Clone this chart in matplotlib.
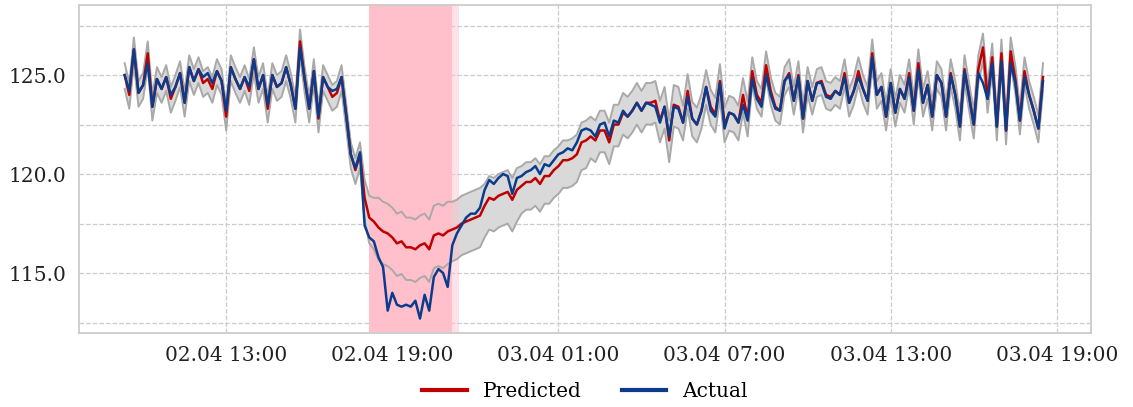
import matplotlib.pyplot as plt
import matplotlib.dates as mdates
from matplotlib.ticker import MultipleLocator, FormatStrFormatter
import pandas as pd

# 10-minute readings starting 02.04 09:20
start = "2024-04-02 09:20"

actual = [
    125.0, 124.2, 126.3, 124.1, 124.5, 125.6, 123.4, 124.8, 124.3, 124.9,
    124.0, 124.4, 125.1, 123.6, 125.4, 124.7, 125.3, 124.9, 125.1, 124.6,
    125.2, 124.7, 123.2, 125.4, 124.8, 124.3, 124.9, 124.4, 125.8, 124.3,
    125.0, 123.5, 125.0, 124.4, 124.6, 125.4, 124.5, 123.3, 126.4, 124.8,
    123.3, 125.2, 122.9, 124.9, 124.4, 124.2, 124.3, 124.9, 123.0, 121.0,
    120.3, 121.1, 117.4, 116.8, 116.6, 115.8, 115.3, 113.1, 114.0, 113.4,
    113.3, 113.4, 113.3, 113.6, 112.7, 113.9, 113.1, 114.8, 115.2, 115.0,
    114.3, 116.4, 117.0, 117.4, 117.8, 118.0, 118.0, 118.3, 119.2, 119.7,
    119.5, 119.8, 120.0, 119.9, 119.0, 119.8, 119.9, 120.1, 120.2, 120.4,
    120.0, 120.5, 120.4, 120.7, 121.0, 121.1, 121.3, 121.2, 121.6, 122.2,
    122.3, 122.2, 121.9, 122.5, 122.6, 121.9, 122.7, 122.6, 123.2, 122.9,
    123.2, 123.6, 123.2, 123.6, 123.5, 123.4, 122.6, 123.4, 121.9, 123.4,
    123.3, 122.6, 123.9, 122.8, 122.5, 123.2, 124.4, 123.2, 122.9, 124.6,
    122.3, 123.1, 123.0, 122.6, 123.5, 122.7, 124.8, 123.8, 123.4, 125.0,
    124.0, 123.3, 123.2, 124.7, 125.0, 123.7, 124.9, 122.8, 124.7, 123.7,
    124.6, 124.6, 123.9, 123.8, 124.2, 124.0, 124.9, 123.6, 124.2, 124.9,
    124.3, 123.7, 125.9, 124.0, 124.4, 122.9, 124.6, 123.1, 124.3, 123.8,
    124.9, 123.2, 125.3, 123.6, 124.5, 122.9, 125.0, 124.6, 122.9, 125.0,
    124.0, 122.4, 125.2, 123.9, 122.5, 125.1, 124.6, 123.8, 125.6, 122.4,
    125.7, 122.2, 125.6, 124.6, 122.7, 124.9, 124.0, 123.2, 122.3, 124.7,
]

predicted = [
    125.0, 124.0, 126.3, 124.1, 124.5, 126.1, 123.4, 124.8, 124.3, 124.9,
    123.8, 124.4, 125.1, 123.6, 125.4, 124.7, 125.3, 124.6, 124.8, 124.3,
    125.2, 124.7, 122.9, 125.4, 124.8, 124.3, 124.9, 124.2, 125.8, 124.3,
    125.0, 123.3, 125.0, 124.4, 124.6, 125.4, 124.5, 123.3, 126.7, 124.8,
    123.3, 125.2, 122.8, 124.9, 124.4, 123.9, 124.1, 124.9, 123.0, 121.0,
    120.2, 121.0, 118.8, 117.8, 117.6, 117.3, 117.1, 117.0, 116.8, 116.5,
    116.6, 116.3, 116.3, 116.2, 116.4, 116.5, 116.2, 116.9, 117.0, 116.9,
    117.1, 117.2, 117.3, 117.5, 117.6, 117.7, 117.8, 117.9, 118.4, 118.8,
    118.7, 118.9, 119.0, 119.1, 118.7, 119.2, 119.4, 119.6, 119.6, 119.8,
    119.5, 119.9, 119.9, 120.2, 120.4, 120.7, 120.7, 120.8, 121.0, 121.6,
    121.7, 121.9, 121.7, 122.2, 122.2, 121.6, 122.5, 122.5, 123.1, 122.9,
    123.2, 123.6, 123.2, 123.6, 123.6, 123.7, 122.7, 123.4, 121.7, 123.5,
    123.4, 122.6, 124.2, 122.8, 122.5, 123.2, 124.4, 123.4, 123.0, 124.7,
    122.5, 123.1, 123.0, 122.6, 124.0, 122.8, 125.2, 124.0, 123.6, 125.5,
    124.2, 123.4, 123.2, 124.7, 125.1, 123.7, 125.0, 122.8, 124.7, 123.7,
    124.6, 124.7, 124.0, 123.9, 124.2, 124.0, 125.1, 123.6, 124.2, 125.2,
    124.3, 123.7, 126.1, 124.0, 124.4, 122.9, 124.6, 123.1, 124.3, 123.8,
    125.1, 123.2, 125.6, 123.6, 124.5, 122.9, 125.0, 124.6, 122.9, 125.1,
    124.0, 122.4, 125.3, 123.9, 122.5, 125.3, 126.4, 123.8, 125.9, 122.4,
    126.1, 122.2, 126.2, 124.8, 122.7, 125.2, 124.0, 123.2, 122.3, 124.9,
]

# distance of the upper / lower interval edge from the prediction
band_hi = [
    0.6, 0.6, 0.6, 0.6, 0.6, 0.6, 0.6, 0.6, 0.6, 0.6,
    0.6, 0.6, 0.6, 0.6, 0.6, 0.6, 0.6, 0.6, 0.6, 0.6,
    0.6, 0.6, 0.6, 0.6, 0.6, 0.6, 0.6, 0.6, 0.6, 0.6,
    0.6, 0.6, 0.6, 0.6, 0.6, 0.6, 0.6, 0.6, 0.6, 0.6,
    0.6, 0.6, 0.6, 0.6, 0.6, 0.6, 0.6, 0.6, 0.6, 0.6,
    0.6, 0.6, 0.9, 1.1, 1.2, 1.5, 1.5, 1.5, 1.5, 1.5,
    1.5, 1.5, 1.5, 1.5, 1.5, 1.5, 1.5, 1.5, 1.5, 1.5,
    1.5, 1.4, 1.4, 1.4, 1.4, 1.4, 1.4, 1.4, 1.1, 1.1,
    1.1, 1.1, 1.1, 1.1, 1.1, 1.1, 1.0, 1.0, 1.0, 1.0,
    1.0, 1.0, 1.0, 1.0, 1.0, 1.0, 1.0, 1.0, 1.0, 1.0,
    1.0, 1.0, 1.0, 1.0, 1.0, 1.0, 1.0, 1.0, 1.0, 1.0,
    1.0, 1.0, 1.0, 1.0, 1.0, 1.0, 1.0, 1.0, 1.0, 1.0,
    1.0, 0.85, 0.85, 0.85, 0.85, 0.85, 0.85, 0.85, 0.85, 0.85,
    0.85, 0.85, 0.85, 0.85, 0.85, 0.85, 0.7, 0.7, 0.7, 0.7,
    0.7, 0.7, 0.7, 0.7, 0.7, 0.7, 0.7, 0.7, 0.7, 0.7,
    0.7, 0.7, 0.7, 0.7, 0.7, 0.7, 0.7, 0.7, 0.7, 0.7,
    0.7, 0.7, 0.7, 0.7, 0.7, 0.7, 0.7, 0.7, 0.7, 0.7,
    0.7, 0.7, 0.7, 0.7, 0.7, 0.7, 0.7, 0.7, 0.7, 0.7,
    0.7, 0.7, 0.7, 0.7, 0.7, 0.7, 0.7, 0.7, 0.7, 0.7,
    0.7, 0.7, 0.7, 0.7, 0.7, 0.7, 0.7, 0.7, 0.7, 0.7,
]

band_lo = [
    0.7, 0.7, 0.7, 0.7, 0.7, 0.7, 0.7, 0.7, 0.7, 0.7,
    0.7, 0.7, 0.7, 0.7, 0.7, 0.7, 0.7, 0.7, 0.7, 0.7,
    0.7, 0.7, 0.7, 0.7, 0.7, 0.7, 0.7, 0.7, 0.7, 0.7,
    0.7, 0.7, 0.7, 0.7, 0.7, 0.7, 0.7, 0.7, 0.7, 0.7,
    0.7, 0.7, 0.7, 0.7, 0.7, 0.7, 0.7, 0.7, 0.7, 0.7,
    0.7, 0.7, 1.1, 1.3, 1.4, 1.65, 1.65, 1.65, 1.65, 1.65,
    1.65, 1.65, 1.65, 1.65, 1.65, 1.65, 1.65, 1.65, 1.65, 1.65,
    1.65, 1.6, 1.6, 1.6, 1.6, 1.6, 1.6, 1.6, 1.6, 1.6,
    1.6, 1.6, 1.6, 1.6, 1.6, 1.6, 1.4, 1.4, 1.4, 1.4,
    1.4, 1.4, 1.4, 1.4, 1.4, 1.4, 1.4, 1.4, 1.4, 1.4,
    1.4, 1.1, 1.1, 1.1, 1.1, 1.1, 1.1, 1.1, 1.1, 1.1,
    1.1, 1.1, 1.1, 1.1, 1.1, 1.1, 1.1, 1.1, 1.1, 1.1,
    1.1, 0.9, 0.9, 0.9, 0.9, 0.9, 0.9, 0.9, 0.9, 0.9,
    0.9, 0.9, 0.9, 0.9, 0.9, 0.9, 0.7, 0.7, 0.7, 0.7,
    0.7, 0.7, 0.7, 0.7, 0.7, 0.7, 0.7, 0.7, 0.7, 0.7,
    0.7, 0.7, 0.7, 0.7, 0.7, 0.7, 0.7, 0.7, 0.7, 0.7,
    0.7, 0.7, 0.7, 0.7, 0.7, 0.7, 0.7, 0.7, 0.7, 0.7,
    0.7, 0.7, 0.7, 0.7, 0.7, 0.7, 0.7, 0.7, 0.7, 0.7,
    0.7, 0.7, 0.7, 0.7, 0.7, 0.7, 0.7, 0.7, 0.7, 0.7,
    0.7, 0.7, 0.7, 0.7, 0.7, 0.7, 0.7, 0.7, 0.7, 0.7,
]

# flagged anomaly window, and its fading tail
anomaly_spans = [("2024-04-02 18:10", "2024-04-02 21:10")]
tail_spans = [("2024-04-02 21:10", "2024-04-02 21:25")]

times = pd.date_range(start, periods=len(actual), freq="10min")
upper = [p + h for p, h in zip(predicted, band_hi)]
lower = [p - l for p, l in zip(predicted, band_lo)]

plt.rcParams["font.family"] = "DejaVu Serif"

fig = plt.figure(figsize=(11.33, 4.07), dpi=100)
ax = fig.add_axes([0.0697, 0.1818, 0.8932, 0.8059])

ax.fill_between(times, lower, upper, color="#D9D9D9", lw=0, zorder=1)
for a, b in anomaly_spans:
    ax.axvspan(pd.Timestamp(a), pd.Timestamp(b), color="#FFC0CB", lw=0, zorder=2)
for a, b in tail_spans:
    ax.axvspan(pd.Timestamp(a), pd.Timestamp(b), color="#FFC0CB", alpha=0.45, lw=0, zorder=2)
ax.plot(times, upper, color="#A9A9A9", lw=1.4, zorder=3)
ax.plot(times, lower, color="#A9A9A9", lw=1.4, zorder=3)
ax.plot(times, predicted, color="#C00000", lw=1.8, zorder=4, label="Predicted")
ax.plot(times, actual, color="#0B3C8C", lw=1.8, zorder=5, label="Actual")

ax.set_xlim(pd.Timestamp("2024-04-02 07:41"), pd.Timestamp("2024-04-03 20:14"))
ax.set_ylim(111.97, 128.54)

ax.xaxis.set_major_locator(mdates.HourLocator(byhour=[1, 7, 13, 19]))
ax.xaxis.set_major_formatter(mdates.DateFormatter("%d.%m %H:%M"))
ax.yaxis.set_major_locator(MultipleLocator(5))
ax.yaxis.set_minor_locator(MultipleLocator(2.5))
ax.yaxis.set_major_formatter(FormatStrFormatter("%.1f"))
ax.tick_params(which="both", length=0, labelsize=14.5, pad=9, colors="#222222")

ax.set_axisbelow(True)
ax.grid(True, which="both", ls="--", color="#CCCCCC", lw=0.9)
for s in ax.spines.values():
    s.set_color("#CCCCCC")
    s.set_linewidth(1.3)

leg = ax.legend(loc="upper center", bbox_to_anchor=(0.5, -0.095), ncol=2,
                frameon=False, fontsize=14.5, handlelength=2.2)
for line in leg.get_lines():
    line.set_linewidth(3)

fig.savefig("out.png", dpi=100)
